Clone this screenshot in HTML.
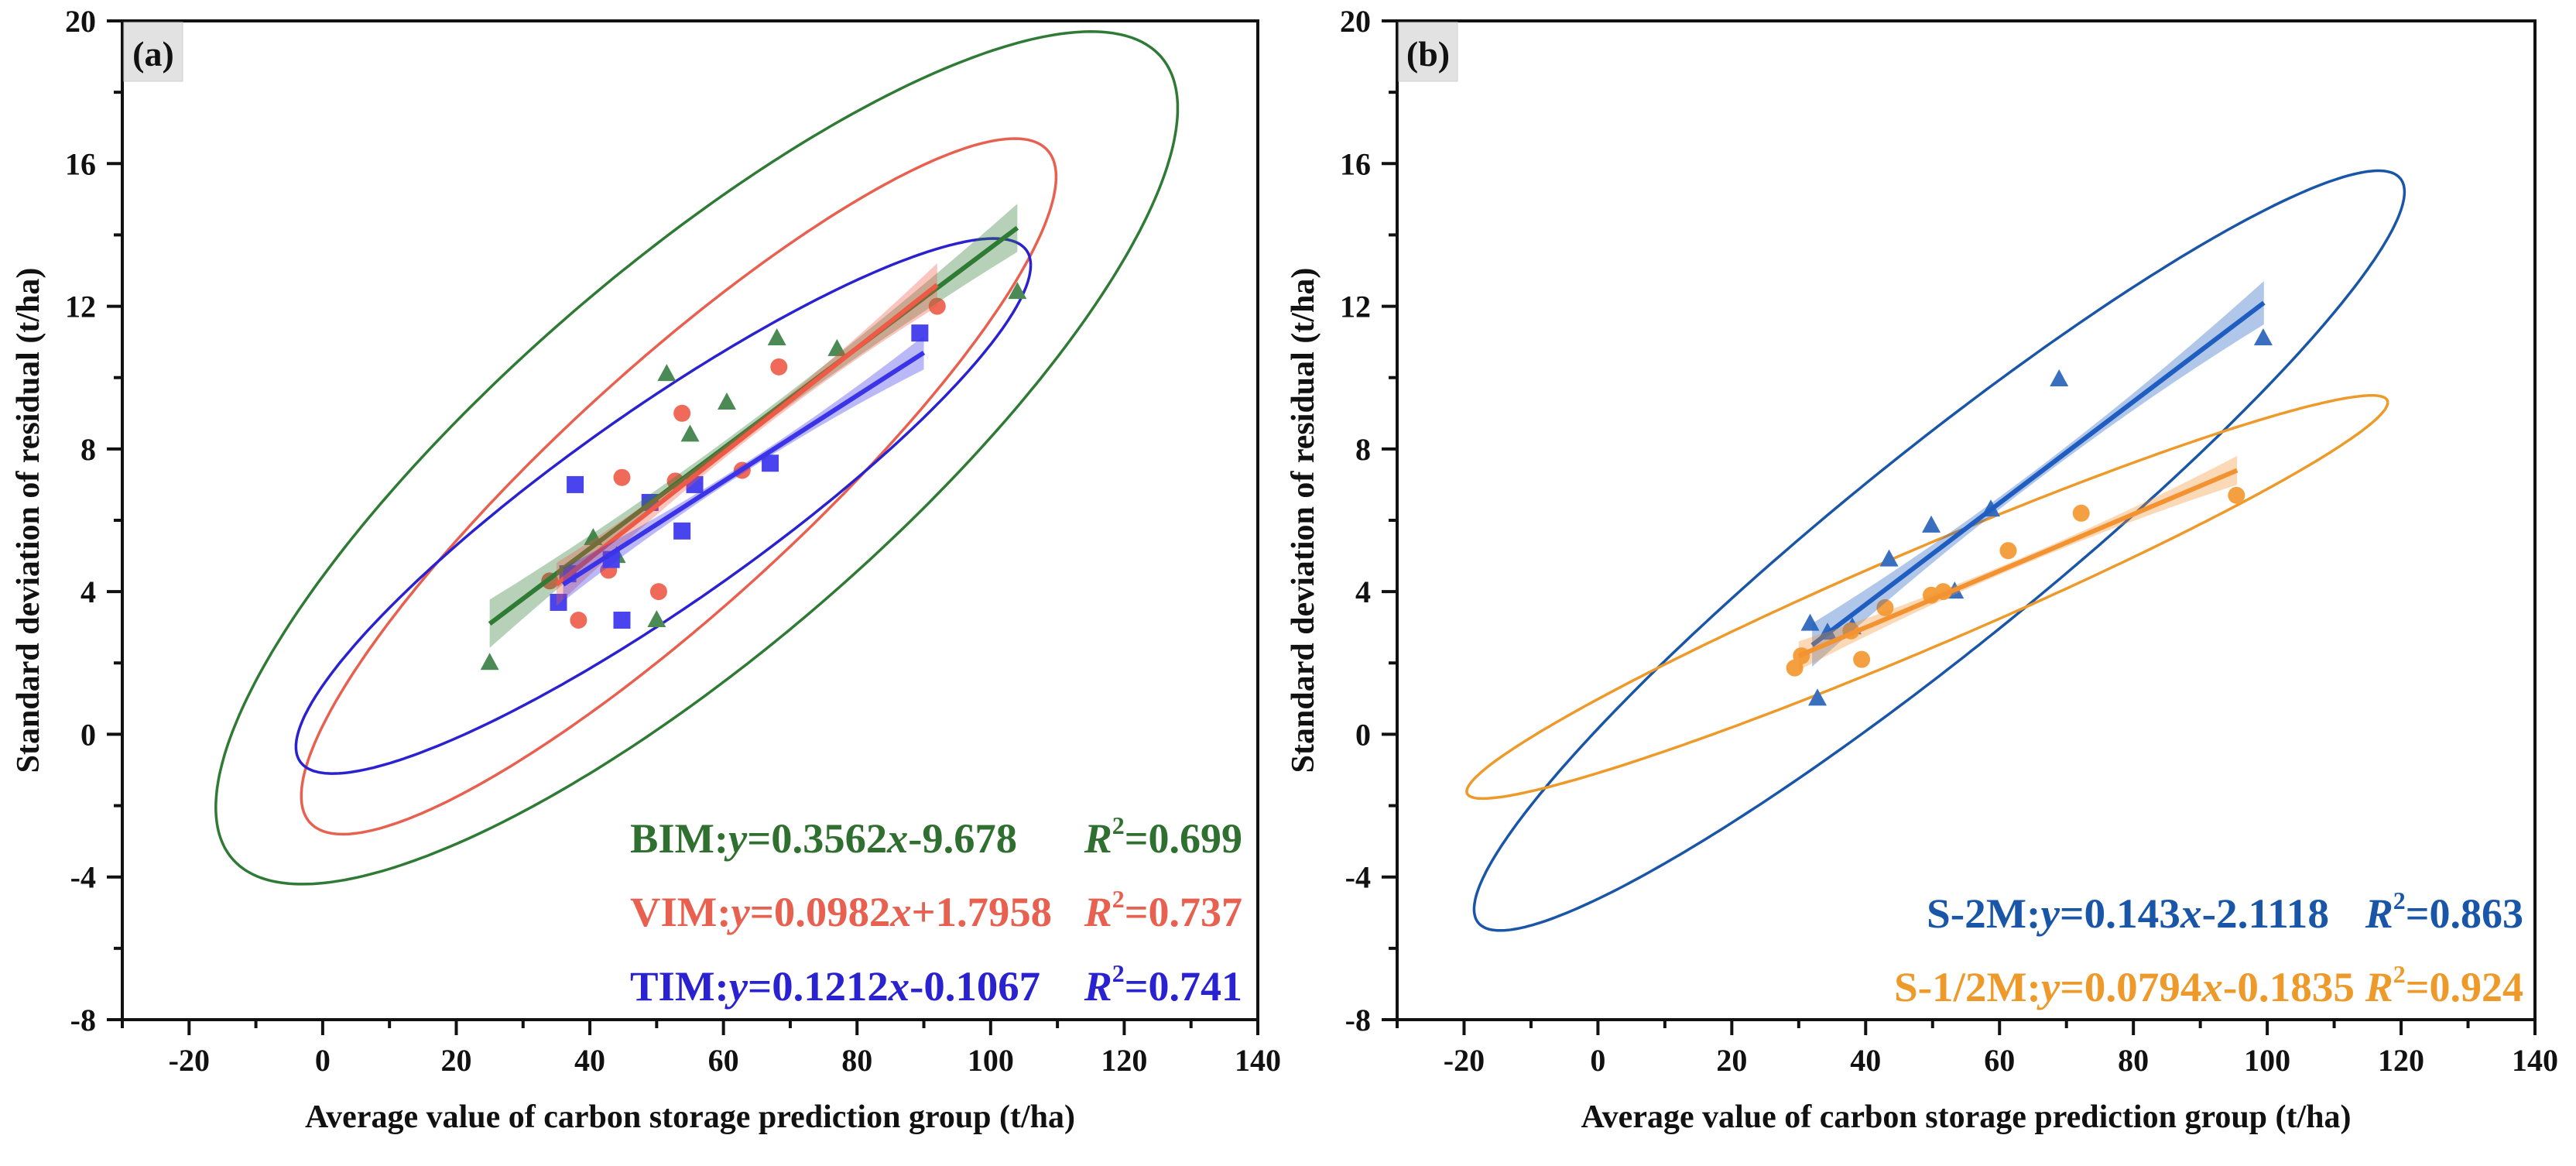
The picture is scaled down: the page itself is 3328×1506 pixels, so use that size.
<!DOCTYPE html>
<html><head><meta charset="utf-8">
<style>
html,body{margin:0;padding:0;background:#fff;}
svg{display:block;}
text{font-family:"Liberation Serif",serif;font-weight:bold;}
</style></head>
<body>
<svg id="chart" width="3328" height="1506" viewBox="0 0 3328 1506" xmlns="http://www.w3.org/2000/svg"></svg>
<script>
// ---------- Data ----------
const xTicks = [-20,0,20,40,60,80,100,120,140];
const yTicks = [-8,-4,0,4,8,12,16,20];

// Panel (a)
const bimX = [25,40.5,44,50,51.5,55,60.5,68,77,104];
const bimY = [2.0,5.5,5.0,3.2,10.1,8.4,9.3,11.1,10.8,12.4];
const vimX = [34,38.3,42.8,44.8,50.3,53.8,52.8,62.8,68.3,92];
const vimY = [4.3,3.2,4.6,7.2,4.0,9.0,7.1,7.4,10.3,12.0];
const timX = [35.3,36.7,37.8,43.2,44.8,49,53.8,55.7,67,89.4];
const timY = [3.7,4.5,7.0,4.9,3.2,6.5,5.7,7.0,7.6,11.25];
const bimLine = [25,3.1,104,14.2];
const vimLine = [35,4.2,92,12.6];
const timLine = [36,4.2,90,10.7];
// ellipse: cx, cy, half-width, half-height, correlation
const bimEll = [56,7.75,72,11.95,0.82];
const vimEll = [53.3,6.95,56.5,9.75,0.89];
const timEll = [51,6.4,55,7.5,0.9];

// Panel (b)
const s2X = [31.7,32.8,34.3,38,43.5,49.8,53.3,58.7,68.9,99.4];
const s2Y = [3.1,1.0,2.85,3.0,4.9,5.85,4.0,6.3,9.95,11.1];
const shX = [29.4,30.4,37.8,39.4,42.9,49.8,51.6,61.3,72.2,95.4];
const shY = [1.86,2.2,2.9,2.1,3.55,3.9,4.0,5.15,6.2,6.7];
const s2Line = [32,2.5,99.5,12.1];
const shLine = [30,2.2,95.5,7.4];
const s2Ell = [51,5.15,69.5,10.65,0.944];
const shEll = [49.2,3.85,68.8,5.65,0.965];

// ---------- Drawing ----------
const NS="http://www.w3.org/2000/svg";
const svg=document.getElementById('chart');
function mk(tag,attrs,parent){const e=document.createElementNS(NS,tag);for(const k in attrs)e.setAttribute(k,attrs[k]);(parent||svg).appendChild(e);return e;}

const Y0=27,Y1=1317,XMIN=-30,XMAX=140,YMIN=-8,YMAX=20;
function axes(left,right){
  const sx=v=>left+(v-XMIN)*(right-left)/(XMAX-XMIN);
  const sy=v=>Y0+(YMAX-v)*(Y1-Y0)/(YMAX-YMIN);
  return {sx,sy};
}

function drawPanel(left,right,label,g){
  const {sx,sy}=axes(left,right);
  // frame
  const fr=mk('rect',{x:left,y:Y0,width:right-left,height:Y1-Y0,fill:'none',stroke:'#111','stroke-width':4},g);
  
  
  // x ticks
  for(let v=-30;v<=140;v+=10){
    const major=(v%20===0);
    const t=mk('line',{x1:sx(v),x2:sx(v),y1:Y1,y2:Y1+(major?20:11),stroke:'#111','stroke-width':4},g);
    
    
  }
  xTicks.forEach(v=>{
    const t=mk('text',{x:sx(v),y:1383,'text-anchor':'middle','font-size':40,fill:'#111'},g);
    t.textContent=v;
    
    
  });
  for(let v=-8;v<=20;v+=2){
    const major=(v%4===0);
    const t=mk('line',{x1:left-(major?20:11),x2:left,y1:sy(v),y2:sy(v),stroke:'#111','stroke-width':4},g);
    
    
  }
  yTicks.forEach(v=>{
    const t=mk('text',{x:left-34,y:sy(v)+14,'text-anchor':'end','font-size':40,fill:'#111'},g);
    t.textContent=v;
    
    
  });
  const xt=mk('text',{x:(left+right)/2,y:1456,'text-anchor':'middle','font-size':42,fill:'#111'},g);
  xt.textContent='Average value of carbon storage prediction group (t/ha)';
  
  
  const yx=left-108, yy=(Y0+Y1)/2;
  const yt=mk('text',{x:yx,y:yy,'text-anchor':'middle','font-size':42,fill:'#111',transform:`rotate(-90 ${yx} ${yy})`},g);
  yt.textContent='Standard deviation of residual (t/ha)';
  
  
  const lb=mk('rect',{x:left+2,y:Y0+2,width:76,height:76,fill:'#e2e2e2',stroke:'#cfcfcf','stroke-width':1},g);
  
  
  const lt=mk('text',{x:left+40,y:Y0+58,'text-anchor':'middle','font-size':46,fill:'#111'},g);
  lt.textContent=label;
  
  
  return {sx,sy};
}

function ellipse(ax,e,color,g,name){
  const [cx,cy,wx,hy,r]=e;const pts=[];
  for(let i=0;i<=360;i++){const t=i*Math.PI/180;
    const x=cx+wx*Math.cos(t);
    const y=cy+hy*(r*Math.cos(t)+Math.sqrt(1-r*r)*Math.sin(t));
    pts.push(ax.sx(x).toFixed(1)+','+ax.sy(y).toFixed(1));}
  const p=mk('polyline',{points:pts.join(' '),fill:'none',stroke:color,'stroke-width':3.5},g);
  
  
}
function fit(ax,l,color,band,g,name){
  const [x1,y1,x2,y2]=l;const xm=(x1+x2)/2;const pts=[],pts2=[];
  for(let i=0;i<=20;i++){const x=x1+(x2-x1)*i/20;const y=y1+(y2-y1)*(x-x1)/(x2-x1);
    const w=band*(0.35+Math.pow((x-xm)/((x2-x1)/2),2));
    pts.push(ax.sx(x)+','+ax.sy(y+w));pts2.unshift(ax.sx(x)+','+ax.sy(y-w));}
  const b=mk('polygon',{points:pts.concat(pts2).join(' '),fill:color,opacity:0.35},g);
  
  
  const ln=mk('line',{x1:ax.sx(x1),y1:ax.sy(y1),x2:ax.sx(x2),y2:ax.sy(y2),stroke:color,'stroke-width':6},g);
  
  
}
function points(ax,xs,ys,shape,color,g,name){
  xs.forEach((x,i)=>{const px=ax.sx(x),py=ax.sy(ys[i]);let e;
    if(shape==='tri') e=mk('polygon',{points:`${px},${py-13} ${px-12},${py+9} ${px+12},${py+9}`,fill:color},g);
    else if(shape==='sq') e=mk('rect',{x:px-11,y:py-11,width:22,height:22,fill:color},g);
    else e=mk('circle',{cx:px,cy:py,r:11,fill:color},g);
    
    
  });
}
function eq(parts,x,xR,y,color,g,name,len){
  const t=mk('text',{x:x,y:y,'font-size':54,fill:color,textLength:len,lengthAdjust:'spacingAndGlyphs'},g);
  parts.forEach(p=>{const s=mk('tspan',p.i?{'font-style':'italic'}:{},t);s.textContent=p.t;});
  
  
}
function r2(val,xR,y,color,g,name){
  const t=mk('text',{x:xR,y:y,'font-size':54,fill:color,'text-anchor':'end'},g);
  const a=mk('tspan',{'font-style':'italic'},t);a.textContent='R';
  const b=mk('tspan',{'font-size':32,dy:-24},t);b.textContent='2';
  const c=mk('tspan',{dy:24},t);c.textContent='='+val;
  
  
}

// Panel A
const gA=mk('g',{});
const A=drawPanel(158,1625,'(a)',gA);
ellipse(A,bimEll,'#2f7a35',gA,'bim-ellipse');
ellipse(A,vimEll,'#e8604f',gA,'vim-ellipse');
ellipse(A,timEll,'#2a22d0',gA,'tim-ellipse');
points(A,bimX,bimY,'tri','#4c8a55',gA,'bim');
points(A,vimX,vimY,'circ','#f06a5a',gA,'vim');
points(A,timX,timY,'sq','#4a44ee',gA,'tim');
fit(A,bimLine,'#2f7a35',0.5,gA,'bim');
fit(A,vimLine,'#ee5a45',0.45,gA,'vim');
fit(A,timLine,'#3a33e8',0.35,gA,'tim');
eq([{t:'BIM:'},{t:'y',i:1},{t:'=0.3562'},{t:'x',i:1},{t:'-9.678'}],814,0,1101,'#2f6f30',gA,'bim',500);
r2('0.699',1605,1101,'#2f6f30',gA,'bim');
eq([{t:'VIM:'},{t:'y',i:1},{t:'=0.0982'},{t:'x',i:1},{t:'+1.7958'}],814,0,1196,'#e8604f',gA,'vim',545);
r2('0.737',1605,1196,'#e8604f',gA,'vim');
eq([{t:'TIM:'},{t:'y',i:1},{t:'=0.1212'},{t:'x',i:1},{t:'-0.1067'}],814,0,1292,'#2a22d0',gA,'tim',530);
r2('0.741',1605,1292,'#2a22d0',gA,'tim');

// Panel B
const gB=mk('g',{});
const B=drawPanel(1805,3275,'(b)',gB);
ellipse(B,s2Ell,'#1a56a8',gB,'s2m-ellipse');
ellipse(B,shEll,'#ee9a2a',gB,'s-half-m-ellipse');
points(B,s2X,s2Y,'tri','#3a6fc0',gB,'s2m');
points(B,shX,shY,'circ','#f5a040',gB,'s-half-m');
fit(B,s2Line,'#1f5ec0',0.45,gB,'s2m');
fit(B,shLine,'#f39230',0.3,gB,'s-half-m');
eq([{t:'S-2M:'},{t:'y',i:1},{t:'=0.143'},{t:'x',i:1},{t:'-2.1118'}],2489,0,1198,'#1a56a8',gB,'s2m',520);
r2('0.863',3260,1198,'#1a56a8',gB,'s2m');
eq([{t:'S-1/2M:'},{t:'y',i:1},{t:'=0.0794'},{t:'x',i:1},{t:'-0.1835'}],2447,0,1293,'#ee9a2a',gB,'s-half-m',595);
r2('0.924',3260,1293,'#ee9a2a',gB,'s-half-m');
</script>
</body></html>
